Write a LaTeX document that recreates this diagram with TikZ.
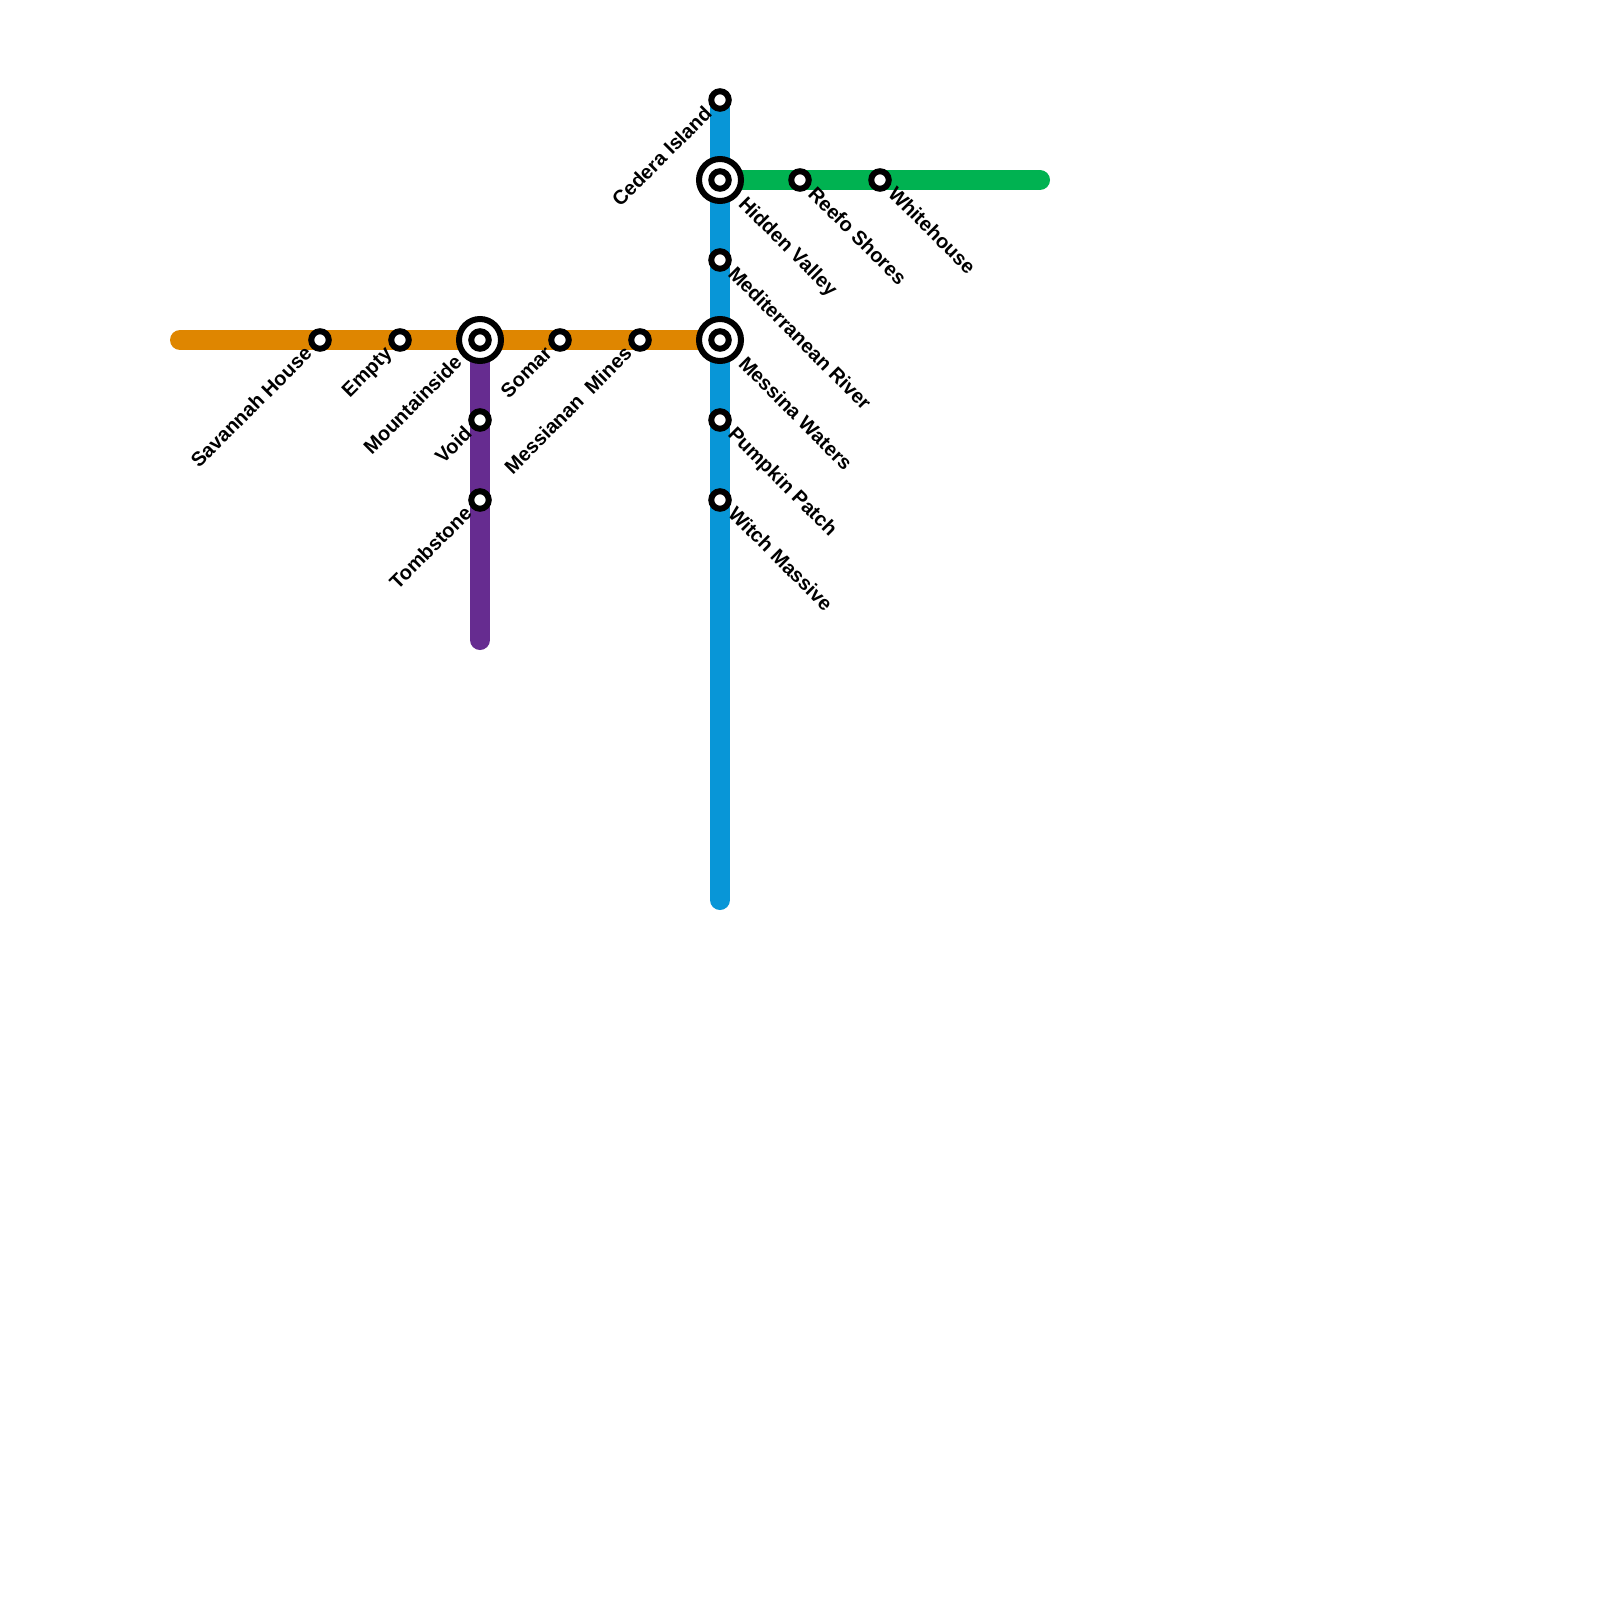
\documentclass[tikz,border=0pt]{standalone}
\usepackage{fontspec}
\setmainfont{Liberation Sans}
\usetikzlibrary{backgrounds}
\definecolor{orangeline}{HTML}{DF8600}
\definecolor{blueline}{HTML}{0896D7}
\definecolor{greenline}{HTML}{00B251}
\definecolor{purpleline}{HTML}{662C90}
\tikzset{
  metro/.style={line width=20pt,line cap=round},
  stn/.style={circle,draw=black,fill=white,line width=6pt,minimum size=17.5pt,inner sep=0pt,outer sep=0pt},
  hubring/.style={circle,draw=black,fill=white,line width=6pt,minimum size=42pt,inner sep=0pt,outer sep=0pt},
  lab/.style={font=\fontsize{20}{24}\selectfont\bfseries,text=black,inner sep=0pt,outer sep=0pt},
  ll/.style={lab,rotate=45,anchor=base east},
  lr/.style={lab,rotate=-45,anchor=base west}
}
\begin{document}
\begin{tikzpicture}[x=1pt,y=-1pt]
\useasboundingbox (0,0) rectangle (1600,1600);
% free line ends
\coordinate (oW) at (180,340);
\coordinate (pS) at (480,640);
\coordinate (bS) at (720,900);
\coordinate (gE) at (1040,180);
% interchange stations
\node[hubring] (hubHV) at (720,180) {};
\node[hubring] (hubMW) at (720,340) {};
\node[hubring] (hubMT) at (480,340) {};
% stations
\node[stn] (CI) at (720,100) {};
\node[stn] (HV) at (720,180) {};
\node[stn] (MR) at (720,260) {};
\node[stn] (MW) at (720,340) {};
\node[stn] (PP) at (720,420) {};
\node[stn] (WM) at (720,500) {};
\node[stn] (RS) at (800,180) {};
\node[stn] (WH) at (880,180) {};
\node[stn] (SH) at (320,340) {};
\node[stn] (EM) at (400,340) {};
\node[stn] (MT) at (480,340) {};
\node[stn] (SO) at (560,340) {};
\node[stn] (MM) at (640,340) {};
\node[stn] (VO) at (480,420) {};
\node[stn] (TS) at (480,500) {};
% lines
\begin{pgfonlayer}{background}
\fill[white] (0,0) rectangle (1600,1600);
\draw[metro,orangeline] (oW) -- (MW.center);
\draw[metro,purpleline] (MT.center) -- (pS);
\draw[metro,greenline] (HV.center) -- (gE);
\draw[metro,blueline] (CI.center) -- (bS);
\end{pgfonlayer}
% labels
\node[ll] (lCI) at ([shift={(-7,15)}]CI.center) {Cedera Island};
\node[lr] (lHV) at ([shift={(17.5,25)}]HV.center) {Hidden Valley};
\node[lr] (lMR) at ([shift={(7,15)}]MR.center) {Mediterranean River};
\node[lr] (lMW) at ([shift={(17.5,25)}]MW.center) {Messina Waters};
\node[lr] (lPP) at ([shift={(7,15)}]PP.center) {Pumpkin Patch};
\node[lr] (lWM) at ([shift={(7,15)}]WM.center) {Witch Massive};
\node[lr] (lRS) at ([shift={(7,15)}]RS.center) {Reefo Shores};
\node[lr] (lWH) at ([shift={(7,15)}]WH.center) {Whitehouse};
\node[ll] (lSH) at ([shift={(-7,15)}]SH.center) {Savannah House};
\node[ll] (lEM) at ([shift={(-7,15)}]EM.center) {Empty};
\node[ll] (lMT) at ([shift={(-17,24)}]MT.center) {Mountainside};
\node[ll] (lSO) at ([shift={(-7,15)}]SO.center) {Somar};
\node[ll] (lMM) at ([shift={(-7,15)}]MM.center) {Messianan\ \ Mines};
\node[ll] (lVO) at ([shift={(-7,15)}]VO.center) {Void};
\node[ll] (lTS) at ([shift={(-7,15)}]TS.center) {Tombstone};
\end{tikzpicture}
\end{document}
